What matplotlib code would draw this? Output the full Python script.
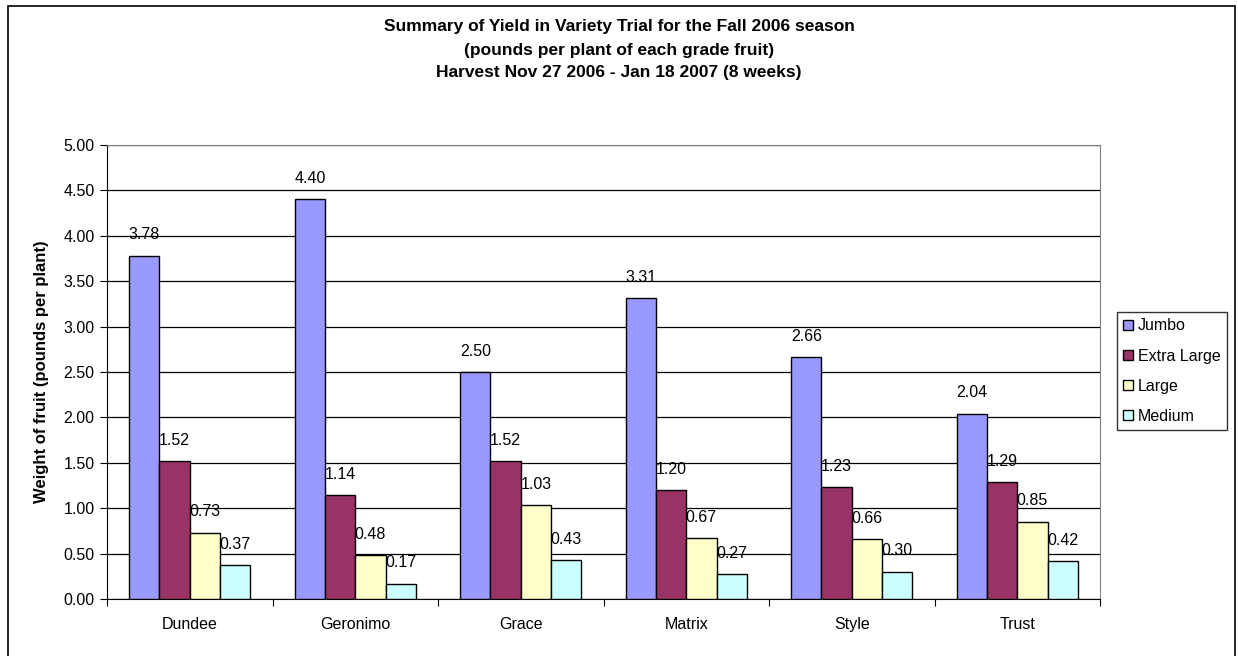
import numpy as np
import matplotlib.pyplot as plt
from matplotlib.patches import Rectangle

varieties = ["Dundee", "Geronimo", "Grace", "Matrix", "Style", "Trust"]
grades = ["Jumbo", "Extra Large", "Large", "Medium"]
jumbo = [3.78, 4.40, 2.50, 3.31, 2.66, 2.04]
extra_large = [1.52, 1.14, 1.52, 1.20, 1.23, 1.29]
large = [0.73, 0.48, 1.03, 0.67, 0.66, 0.85]
medium = [0.37, 0.17, 0.43, 0.27, 0.30, 0.42]
colors = ["#9999FF", "#993366", "#FFFFCC", "#CCFFFF"]

plt.rcParams['font.family'] = ['Liberation Sans', 'DejaVu Sans']

fig = plt.figure(figsize=(12.38, 6.56), dpi=100)
ax = fig.add_axes([107 / 1238, 1 - 599 / 656, 993 / 1238, 454 / 656])

# outer chart border
fig.patches.append(Rectangle((8 / 1238, -0.01), 1227 / 1238, 1 - 6 / 656 + 0.01,
                             transform=fig.transFigure, fill=False,
                             edgecolor="black", linewidth=1.2))

x = np.arange(len(varieties))
w = 0.183
series = [jumbo, extra_large, large, medium]
for i, (vals, name) in enumerate(zip(series, grades)):
    pos = x + (i - 1.5) * w
    bars = ax.bar(pos, vals, w, color=colors[i], edgecolor="black",
                  linewidth=1.0, label=name, zorder=3)
    for b, v in zip(bars, vals):
        ax.annotate("%.2f" % v, (b.get_x() + b.get_width() / 2, v),
                    xytext=(0, 15), textcoords="offset points",
                    ha="center", va="center", fontsize=11.5, zorder=4)

ax.set_xlim(-0.5, len(varieties) - 0.5)
ax.set_ylim(0, 5)
ax.set_yticks(np.arange(0, 5.01, 0.5))
ax.set_yticklabels(["%.2f" % t for t in np.arange(0, 5.01, 0.5)], fontsize=11.5)
ax.yaxis.grid(True, color="black", linewidth=0.9, zorder=0)
ax.set_axisbelow(True)

ax.set_xticks(np.arange(-0.5, len(varieties) + 0.5, 1))
ax.set_xticklabels([])
ax.set_xticks(x, minor=True)
ax.set_xticklabels(varieties, minor=True, fontsize=11.5)
ax.tick_params(axis="x", which="minor", length=0, pad=13)
ax.tick_params(axis="x", which="major", length=5, direction="out")
ax.tick_params(axis="y", length=5, direction="out", pad=4)

for s in ["top", "right"]:
    ax.spines[s].set_color("#808080")
for s in ["left", "bottom"]:
    ax.spines[s].set_color("black")

ax.set_ylabel("Weight of fruit (pounds per plant)", fontsize=12,
              fontweight="bold", labelpad=10)

fig.text(0.5, 1 - 26 / 656, "Summary of Yield in Variety Trial for the Fall 2006 season",
         ha="center", va="center", fontsize=12.5, fontweight="bold")
fig.text(0.5, 1 - 50 / 656, "(pounds per plant of each grade fruit)",
         ha="center", va="center", fontsize=12.5, fontweight="bold")
fig.text(0.5, 1 - 73 / 656, "Harvest Nov 27 2006 - Jan 18 2007 (8 weeks)",
         ha="center", va="center", fontsize=12.5, fontweight="bold")

leg = fig.legend(loc="upper left", bbox_to_anchor=(1117 / 1238, 1 - 312 / 656),
                 fontsize=11.5, frameon=True, fancybox=False, edgecolor="black",
                 handlelength=0.6, handleheight=0.6, handletextpad=0.3,
                 borderpad=0.4, labelspacing=0.95, borderaxespad=0)
leg.get_frame().set_linewidth(1.0)

fig.savefig("out.png", dpi=100)
